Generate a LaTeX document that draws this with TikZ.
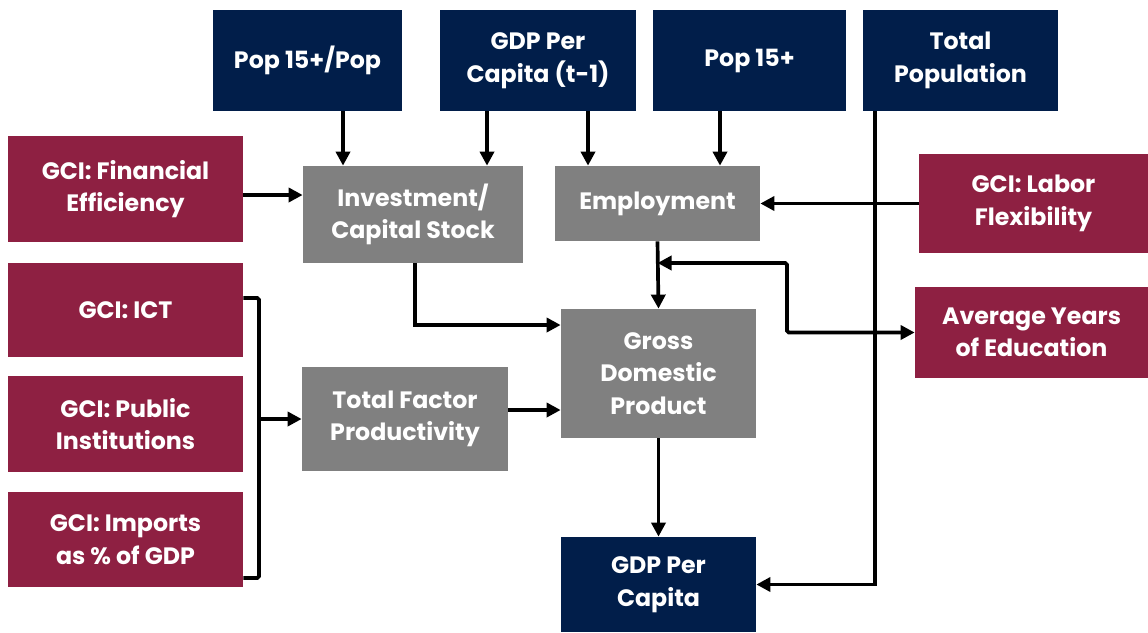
\documentclass[tikz,border=0pt]{standalone}
\usepackage{fontspec}
\setmainfont{Poppins}
\usetikzlibrary{arrows.meta,positioning,calc}
\definecolor{cNAV}{HTML}{011E4A}
\definecolor{cMAR}{HTML}{8E2042}
\definecolor{cGRY}{HTML}{808080}
\newdimen\pxu \pxu=0.02cm

\begin{document}
\begin{tikzpicture}[x=0.02cm, y=-0.02cm, >={Triangle[length=8pt,width=8pt]},
  font=\fontsize{13.5}{18.5}\selectfont\bfseries,
  bx/.style={inner sep=0pt, align=center, text=white},
  nav/.style={bx, fill=cNAV},
  mar/.style={bx, fill=cMAR},
  gry/.style={bx, fill=cGRY},
  ln/.style={line width=2.1pt}]
\useasboundingbox (0,0) rectangle (1148,632);
% top row
\node[nav, minimum width=189\pxu, minimum height=101\pxu] (pratio) at (307.5,60.5) {Pop 15+/Pop};
\node[nav, minimum width=196\pxu, minimum height=101\pxu] (gdplag) at (538,60.5) {GDP Per\\Capita (t-1)};
\node[nav, minimum width=193\pxu, minimum height=101\pxu] (pop15) at (749.5,60.5) {Pop 15+};
\node[nav, minimum width=195\pxu, minimum height=101\pxu] (totpop) at (960.5,60.5) {Total\\Population};
% left column
\node[mar, minimum width=235\pxu, minimum height=106\pxu] (finef) at (125.5,189) {GCI: Financial\\Efficiency};
\node[mar, minimum width=235\pxu, minimum height=94\pxu] (ict) at (125.5,310) {GCI: ICT};
\node[mar, minimum width=235\pxu, minimum height=96\pxu] (pubin) at (125.5,424) {GCI: Public\\Institutions};
\node[mar, minimum width=235\pxu, minimum height=95\pxu] (imprt) at (125.5,539.5) {GCI: Imports\\as \% of GDP};
% middle
\node[gry, minimum width=220\pxu, minimum height=97\pxu] (invst) at (413,214.5) {Investment/\\Capital Stock};
\node[gry, minimum width=205\pxu, minimum height=75\pxu] (emplo) at (657.5,203.5) {Employment};
\node[gry, minimum width=206\pxu, minimum height=104\pxu] (tfp) at (405,419) {Total Factor\\Productivity};
\node[gry, minimum width=195\pxu, minimum height=129\pxu] (gdp) at (658.5,373.5) {Gross\\Domestic\\Product};
\node[nav, minimum width=195\pxu, minimum height=95\pxu] (gdppc) at (658.5,584.5) {GDP Per\\Capita};
% right column
\node[mar, minimum width=229\pxu, minimum height=99\pxu] (labfl) at (1033.5,203.5) {GCI: Labor\\Flexibility};
\node[mar, minimum width=233\pxu, minimum height=91\pxu] (educ) at (1031.5,332.5) {Average Years\\of Education};
% connectors
\draw[ln, ->] (pratio.south -| 343,0) -- (invst.north -| 343,0);
\draw[ln, ->] (gdplag.south -| 487,0) -- (invst.north -| 487,0);
\draw[ln, ->] (gdplag.south -| 588,0) -- (emplo.north -| 588,0);
\draw[ln, ->] (pop15.south -| 720,0) -- (emplo.north -| 720,0);
\draw[ln, ->] (finef.east |- 0,195) -- (invst.west |- 0,195);
\draw[ln, ->] (labfl.west) -- (emplo.east);
\draw[ln, ->] (emplo.south) -- (gdp.north);
\draw[ln, ->] (invst.south -| 415,0) |- (gdp.west |- 0,325);
\draw[ln, ->] (tfp.east |- 0,410) -- (gdp.west |- 0,410);
\draw[ln, ->] (gdp.south) -- (gdppc.north);
\draw[ln, ->] (totpop.south -| 875,0) |- (gdppc.east);
\coordinate (edj) at (emplo.south |- 0,263);
\draw[ln, <->, rounded corners=1pt] (edj) -- (787,263) |- (educ.west);
\draw[ln, rounded corners=1pt] (ict.east |- 0,298) -| (259,578) -- (imprt.east |- 0,578);
\draw[ln, ->] (259,419) -- (tfp.west);
\end{tikzpicture}
\end{document}
